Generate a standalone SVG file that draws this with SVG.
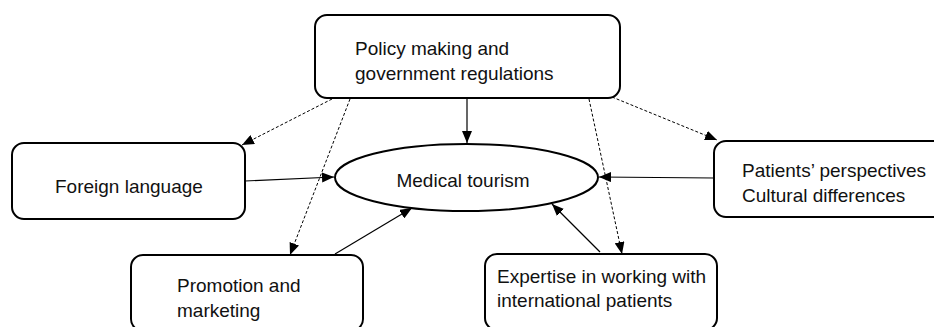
<svg xmlns="http://www.w3.org/2000/svg" width="934" height="327" viewBox="0 0 934 327">
<style>
.box{fill:#fff;stroke:#000;stroke-width:2}
.t{font-family:"Liberation Sans",Arial,sans-serif;font-size:19px;fill:#111}
.s{stroke:#000;stroke-width:1.2;fill:none;marker-end:url(#ah)}
.d{stroke:#000;stroke-width:1;stroke-dasharray:3 2;fill:none;marker-end:url(#ah)}
</style>
<defs>
<marker id="ah" viewBox="0 0 12 10" refX="12" refY="5" markerWidth="12" markerHeight="10" markerUnits="userSpaceOnUse" orient="auto">
<path d="M0,0 L12,5 L0,10 Z" fill="#000"/>
</marker>
</defs>
<rect width="934" height="327" fill="#fff"/>
<g id="connectors">
<line class="s" x1="467" y1="99" x2="467" y2="143"/>
<line class="s" x1="245" y1="181" x2="334" y2="177"/>
<line class="s" x1="714" y1="178" x2="599" y2="177"/>
<line class="s" x1="335" y1="254" x2="412" y2="208"/>
<line class="s" x1="600" y1="252" x2="552" y2="204"/>
<line class="d" x1="332" y1="99" x2="242" y2="145"/>
<line class="d" x1="350" y1="99" x2="290" y2="255"/>
<line class="d" x1="589" y1="99" x2="622" y2="254"/>
<line class="d" x1="612" y1="97" x2="717" y2="140"/>
</g>
<g id="policy">
<rect class="box" x="315" y="15" width="305" height="83" rx="12"/>
<text class="t" x="355" y="55">Policy making and</text>
<text class="t" x="355" y="80">government regulations</text>
</g>
<g id="foreign">
<rect class="box" x="12" y="143" width="233" height="76" rx="12"/>
<text class="t" x="55" y="193">Foreign language</text>
</g>
<g id="medical">
<ellipse class="box" cx="466.5" cy="177.5" rx="131.5" ry="33.5"/>
<text class="t" x="463" y="187" text-anchor="middle">Medical tourism</text>
</g>
<g id="patients">
<rect class="box" x="714" y="141" width="240" height="76" rx="12"/>
<text class="t" x="742" y="177">Patients’ perspectives</text>
<text class="t" x="742" y="202">Cultural differences</text>
</g>
<g id="promotion">
<rect class="box" x="131" y="255" width="232" height="76" rx="12"/>
<text class="t" x="177" y="292">Promotion and</text>
<text class="t" x="177" y="317">marketing</text>
</g>
<g id="expertise">
<rect class="box" x="485" y="254" width="232" height="76" rx="12"/>
<text class="t" x="497" y="283">Expertise in working with</text>
<text class="t" x="497" y="307">international patients</text>
</g>
</svg>
